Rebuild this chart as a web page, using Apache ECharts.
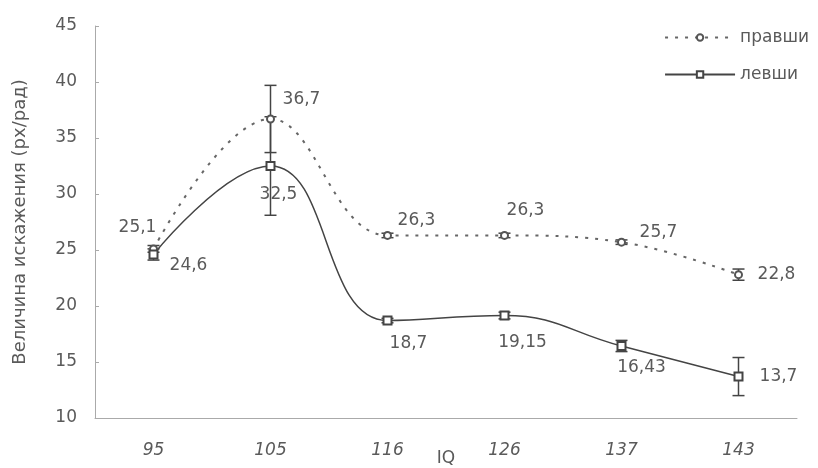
<!DOCTYPE html>
<html>
<head>
<meta charset="utf-8">
<script src="https://cdn.jsdelivr.net/npm/echarts@6/dist/echarts.min.js"></script>
<style>
  html, body { margin: 0; padding: 0; background: #fff; }
  #chart { width: 818px; height: 468px; }
</style>
</head>
<body>
<div id="chart"></div>
<script>
// IQ groups along the horizontal axis
const iqGroups = ['95', '105', '116', '126', '137', '143'];

// Distortion magnitude (px/rad) for each group
const rightHanded = [25.1, 36.7, 26.3, 26.3, 25.7, 22.8];
const leftHanded = [24.6, 32.5, 18.7, 19.15, 16.43, 13.7];

// Half-widths of the error bars
const rightHandedErr = [0.3, 3.0, 0.2, 0.2, 0.2, 0.5];
const leftHandedErr = [0.5, 4.4, 0.2, 0.3, 0.5, 1.7];

// Y axis range and step
const yMin = 10, yMax = 45, yStep = 5;

// Value label offsets relative to each marker (pixels)
const rightLabelOffsets = [[-16, -21], [31, -19], [29, -15], [21, -25], [37, -10], [38, 0]];
const leftLabelOffsets = [[35, 11], [8, 29], [21, 23], [18, 27], [20, 22], [40, 0]];

const textColor = '#5a5a5a';
const fontFamily = 'DejaVu Sans, sans-serif';
const fontSize = 17;

const fmt = v => String(v).replace('.', ',');

function withLabels(values, offsets) {
  return values.map((v, i) => ({
    value: v,
    label: { show: true, position: 'inside', offset: offsets[i] }
  }));
}

function errorData(values, errs) {
  return values.map((v, i) => [i, v - errs[i], v + errs[i]]);
}

function renderErrorBar(params, api) {
  const lo = api.coord([api.value(0), api.value(1)]);
  const hi = api.coord([api.value(0), api.value(2)]);
  const cap = 6;
  const style = { stroke: '#444', lineWidth: 1.5 };
  return {
    type: 'group',
    children: [
      { type: 'line', shape: { x1: lo[0], y1: lo[1], x2: hi[0], y2: hi[1] }, style },
      { type: 'line', shape: { x1: lo[0] - cap, y1: lo[1], x2: lo[0] + cap, y2: lo[1] }, style },
      { type: 'line', shape: { x1: hi[0] - cap, y1: hi[1], x2: hi[0] + cap, y2: hi[1] }, style }
    ]
  };
}

const labelStyle = {
  color: textColor,
  fontSize,
  fontFamily,
  align: 'center',
  verticalAlign: 'middle',
  formatter: p => fmt(p.value)
};

const chart = echarts.init(document.getElementById('chart'), null, { renderer: 'canvas' });

chart.setOption({
  backgroundColor: '#fff',
  animation: false,
  textStyle: { fontFamily },
  grid: { left: 95, right: 21, top: 26, bottom: 50, containLabel: false, outerBoundsMode: 'none' },
  legend: {
    orient: 'vertical',
    right: 4,
    top: 24,
    itemGap: 20,
    itemWidth: 70,
    itemHeight: 8,
    textStyle: { color: textColor, fontSize, fontFamily },
    data: ['правши', 'левши']
  },
  xAxis: {
    type: 'category',
    data: iqGroups,
    boundaryGap: true,
    name: 'IQ',
    nameLocation: 'middle',
    nameGap: 32,
    nameMoveOverlap: false,
    nameTextStyle: { color: textColor, fontSize, fontFamily },
    axisLine: { lineStyle: { color: '#aaa', width: 1 } },
    axisTick: { inside: true, length: 4, lineStyle: { color: '#aaa' } },
    axisLabel: { color: textColor, fontSize, fontStyle: 'italic', margin: 24, fontFamily },
    splitLine: { show: false }
  },
  yAxis: {
    type: 'value',
    min: yMin,
    max: yMax,
    interval: yStep,
    name: 'Величина искажения (рх/рад)',
    nameLocation: 'middle',
    nameGap: 66,
    nameMoveOverlap: false,
    nameTextStyle: { color: textColor, fontSize: 18, fontFamily },
    axisLine: { show: true, lineStyle: { color: '#aaa', width: 1 } },
    axisTick: { show: true, inside: true, length: 4, lineStyle: { color: '#aaa' } },
    axisLabel: { color: textColor, fontSize, margin: 18, fontFamily },
    splitLine: { show: false }
  },
  series: [
    {
      name: 'правши',
      type: 'line',
      smooth: 0.4,
      data: withLabels(rightHanded, rightLabelOffsets),
      symbol: 'emptyCircle',
      symbolSize: 7,
      lineStyle: { color: '#666', width: 2, type: [3, 7] },
      itemStyle: { color: '#555', borderWidth: 1.5 },
      label: labelStyle,
      z: 3
    },
    {
      name: 'левши',
      type: 'line',
      smooth: 0.45,
      data: withLabels(leftHanded, leftLabelOffsets),
      symbol: 'emptyRect',
      symbolSize: 8,
      lineStyle: { color: '#444', width: 1.5 },
      itemStyle: { color: '#444', borderWidth: 1.5 },
      label: labelStyle,
      z: 3
    },
    {
      type: 'custom',
      name: 'правши-err',
      renderItem: renderErrorBar,
      data: errorData(rightHanded, rightHandedErr),
      encode: { x: 0, y: [1, 2] },
      silent: true,
      z: 2
    },
    {
      type: 'custom',
      name: 'левши-err',
      renderItem: renderErrorBar,
      data: errorData(leftHanded, leftHandedErr),
      encode: { x: 0, y: [1, 2] },
      silent: true,
      z: 2
    }
  ]
});
</script>
</body>
</html>
